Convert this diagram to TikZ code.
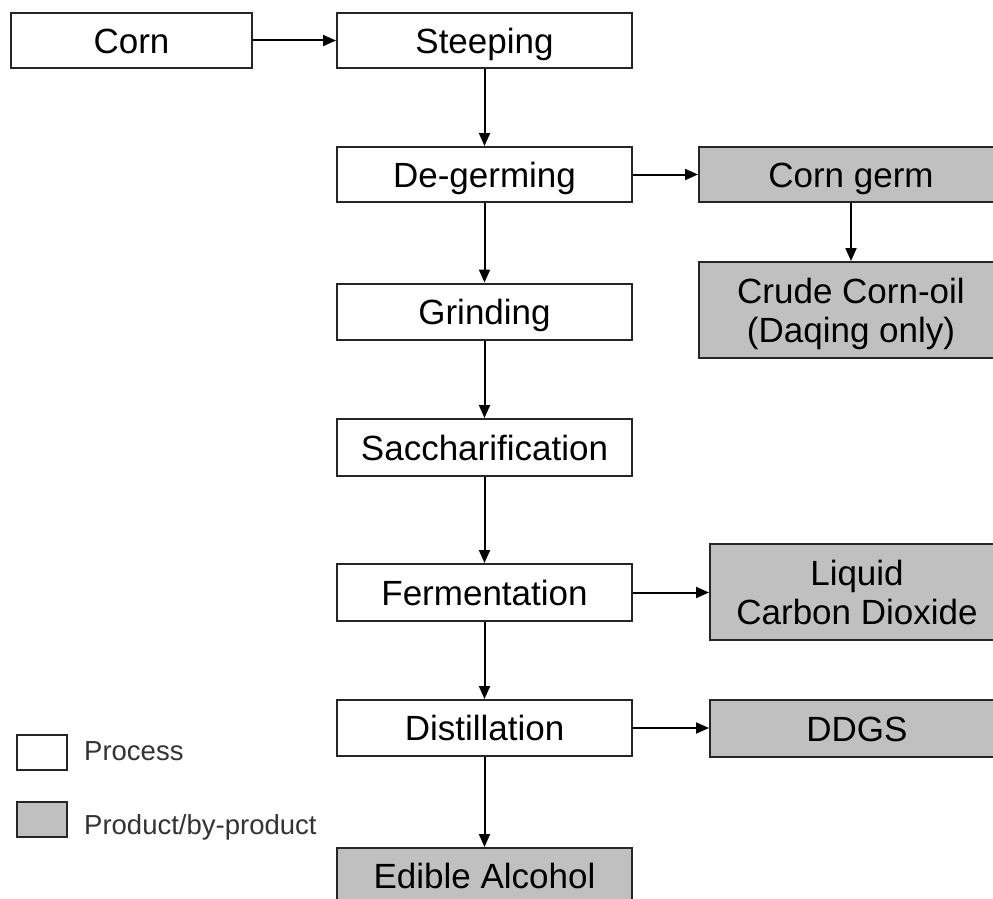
\documentclass[tikz,border=0pt]{standalone}
\usepackage{fontspec}
\setmainfont{Liberation Sans}
\usetikzlibrary{arrows.meta}
\definecolor{prodgray}{HTML}{C0C0C0}
\definecolor{legtext}{HTML}{333333}
\begin{document}
\begin{tikzpicture}[x=1pt,y=-1pt,
  box/.style={draw=black!85,line width=2pt,rectangle,inner sep=0pt,align=center,
    font=\fontsize{35}{39}\selectfont},
  one/.style={text height=25pt,text depth=0pt},
  proc/.style={box,fill=white},
  prod/.style={box,fill=prodgray},
  legbox/.style={draw=black!85,line width=2pt,rectangle,inner sep=0pt,minimum width=50pt,minimum height=35pt},
  legtxt/.style={anchor=west,inner sep=0pt,text=legtext,font=\fontsize{27.5}{30}\selectfont},
  arr/.style={line width=2pt,-{Triangle[length=13pt,width=11pt]}}]
\useasboundingbox (0,0) rectangle (993,899);
\clip (0,0) rectangle (993,899);
\fill[white] (0,0) rectangle (993,899);
% process column
\node[proc,one,minimum width=241pt,minimum height=55pt] (corn) at (131.5,40.5) {Corn};
\node[proc,one,minimum width=295pt,minimum height=55pt] (steep) at (484.5,40.5) {Steeping};
\node[proc,one,minimum width=295pt,minimum height=55pt] (degerm) at (484.5,174.5) {De-germing};
\node[proc,one,minimum width=295pt,minimum height=56pt] (grind) at (484.5,311.5) {Grinding};
\node[proc,one,minimum width=295pt,minimum height=57pt] (sacch) at (484.5,447.5) {Saccharification};
\node[proc,one,minimum width=295pt,minimum height=57pt] (ferm) at (484.5,592.5) {Fermentation};
\node[proc,one,minimum width=295pt,minimum height=56pt] (dist) at (484.5,728) {Distillation};
\node[prod,one,minimum width=295pt,minimum height=56pt] (edible) at (484.5,876) {Edible Alcohol};
% products
\node[prod,one,minimum width=304pt,minimum height=55pt] (germ) at (851,174.5) {Corn germ};
\node[prod,minimum width=304pt,minimum height=96pt,text depth=0pt] (oil) at (851,310) {Crude Corn-oil\\(Daqing only)};
\node[prod,minimum width=294pt,minimum height=96pt] (co2) at (857,592) {Liquid\\Carbon Dioxide};
\node[prod,one,minimum width=294pt,minimum height=57pt] (ddgs) at (857,728.5) {DDGS};
% legend
\node[legbox,fill=white] (lp) at (42,752) {};
\node[legtxt] (lpt) at (84,751) {Process};
\node[legbox,fill=prodgray] (lg) at (42,819.5) {};
\node[legtxt] (lgt) at (84,827) {Product/by-product};
% connectors
\draw[arr] (corn.east) -- (corn.east -| steep.west);
\draw[arr] (steep.south) -- (degerm.north);
\draw[arr] (degerm.east) -- (degerm.east -| germ.west);
\draw[arr] (germ.south) -- (oil.north);
\draw[arr] (degerm.south) -- (grind.north);
\draw[arr] (grind.south) -- (sacch.north);
\draw[arr] (sacch.south) -- (ferm.north);
\draw[arr] (ferm.east) -- (ferm.east -| co2.west);
\draw[arr] (ferm.south) -- (dist.north);
\draw[arr] (dist.east) -- (dist.east -| ddgs.west);
\draw[arr] (dist.south) -- (edible.north);
\end{tikzpicture}
\end{document}
